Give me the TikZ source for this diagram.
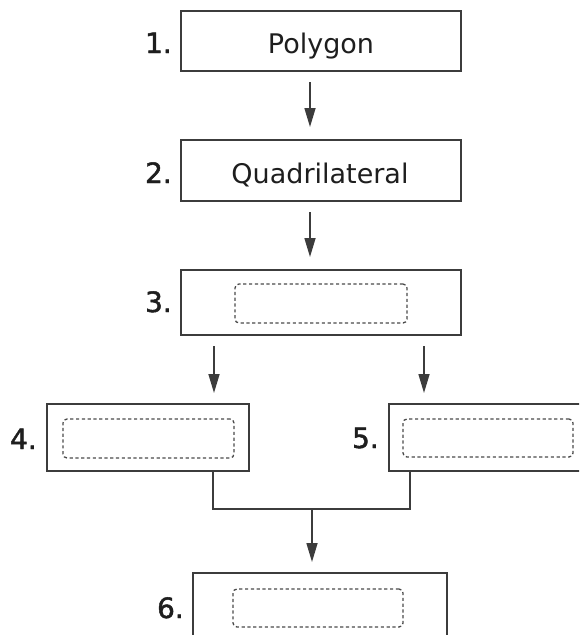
\documentclass[tikz,border=0pt]{standalone}
\usepackage{fontspec}
\setmainfont{DejaVu Sans}
\newfontfamily\numfont[FakeBold=1.6]{DejaVu Sans}
\usetikzlibrary{arrows.meta}
\definecolor{linegray}{HTML}{3C3C3C}
\definecolor{dashgray}{HTML}{4A4A4A}
\definecolor{txt}{HTML}{1E1E1E}
\begin{document}
\begin{tikzpicture}[x=1pt,y=-1pt,
  box/.style={draw=linegray, line width=2pt, fill=white, inner sep=0pt},
  slot/.style={draw=dashgray, line width=1.3pt, dash pattern=on 3.2pt off 2.6pt, rounded corners=4pt, inner sep=0pt},
  num/.style={anchor=base east, inner sep=0pt, font=\numfont\fontsize{28}{30}\selectfont, text=txt},
  word/.style={anchor=base, inner sep=0pt, font=\fontsize{27}{30}\selectfont, text=txt},
  arr/.style={draw=linegray, line width=1.6pt, -{Triangle[length=19pt,width=11pt]}},
  conn/.style={draw=linegray, line width=2pt}
]
\useasboundingbox (0,0) rectangle (579,635);
\begin{scope}
\clip (0,0) rectangle (579,635);
% boxes
\node[box, minimum width=280pt, minimum height=60pt] (b1) at (321,41) {};
\node[box, minimum width=280pt, minimum height=61pt] (b2) at (321,170.5) {};
\node[box, minimum width=280pt, minimum height=65pt] (b3) at (321,302.5) {};
\node[box, minimum width=202pt, minimum height=67pt] (b4) at (148,437.5) {};
\node[box, minimum width=202pt, minimum height=67pt] (b5) at (490,437.5) {};
\node[box, minimum width=254pt, minimum height=70pt] (b6) at (320,608) {};
% dashed slots
\node[slot, minimum width=172pt, minimum height=39pt] (s3) at (321,303.5) {};
\node[slot, minimum width=171pt, minimum height=39pt] (s4) at (148.5,438.5) {};
\node[slot, minimum width=170pt, minimum height=38pt] (s5) at (488,438) {};
\node[slot, minimum width=170pt, minimum height=38pt] (s6) at (318,608) {};
% texts
\node[word] (t1) at (321,53.3) {Polygon};
\node[word] (t2) at (320,183) {Quadrilateral};
% numbers
\node[num] (n1) at (172,53) {1.};
\node[num] (n2) at (172,183) {2.};
\node[num] (n3) at (172,312) {3.};
\node[num] (n4) at (37,449) {4.};
\node[num] (n5) at (379,448) {5.};
\node[num] (n6) at (184,618) {6.};
% connectors
\coordinate (j) at (312,509);
\draw[arr] ([xshift=-11pt,yshift=-10pt]b1.south) -- ([xshift=-11pt,yshift=12pt]b2.north);
\draw[arr] ([xshift=-11pt,yshift=-10pt]b2.south) -- ([xshift=-11pt,yshift=12pt]b3.north);
\draw[arr] ([xshift=-107pt,yshift=-10pt]b3.south) -- ([xshift=66pt,yshift=10pt]b4.north);
\draw[arr] ([xshift=103pt,yshift=-10pt]b3.south) -- ([xshift=-66pt,yshift=10pt]b5.north);
\draw[conn] ([xshift=65pt]b4.south) |- (j) -| ([xshift=-80pt]b5.south);
\draw[arr] (j) -- ([xshift=-8pt,yshift=10pt]b6.north);
\end{scope}
\end{tikzpicture}
\end{document}
